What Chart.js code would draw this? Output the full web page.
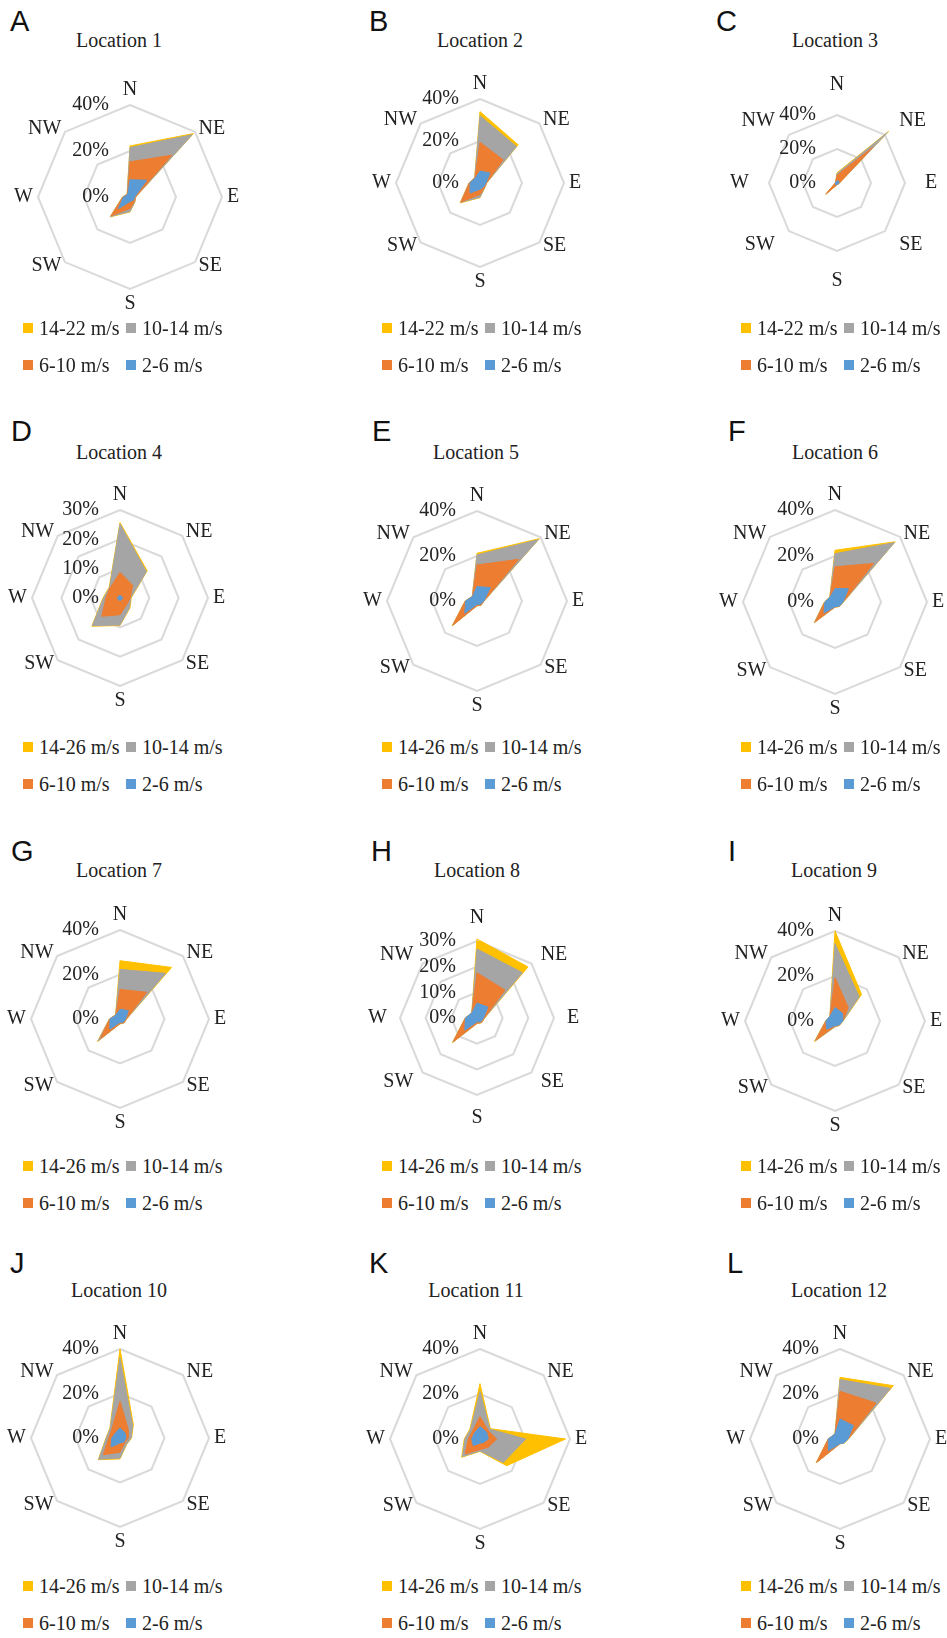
<!DOCTYPE html>
<html>
<head>
<meta charset="utf-8">
<script src="https://cdn.jsdelivr.net/npm/chart.js@4.4.1/dist/chart.umd.min.js"></script>
<style>
  html, body { margin: 0; padding: 0; background: #fff; }
  body { width: 947px; height: 1638px; position: relative; overflow: hidden;
         font-family: 'Liberation Serif', 'Times New Roman', serif; color: #222; }
  .letter { position: absolute; font-family: 'Liberation Sans', Arial, sans-serif;
            font-size: 29px; line-height: 29px; color: #111; }
  .title { position: absolute; font-size: 20px; line-height: 20px; white-space: nowrap;
           transform: translateX(-50%); }
  canvas { position: absolute; }
  .legend { position: absolute; display: grid; grid-template-columns: 103px auto;
            row-gap: 17px; font-size: 20px; line-height: 20px; }
  .item { display: flex; align-items: center; white-space: nowrap; }
  .sw { width: 10px; height: 10px; margin-right: 6px; }
</style>
</head>
<body>
<script>
const directions = ['N', 'NE', 'E', 'SE', 'S', 'SW', 'W', 'NW'];
const speedBins22 = ['14-22 m/s', '10-14 m/s', '6-10 m/s', '2-6 m/s'];
const speedBins26 = ['14-26 m/s', '10-14 m/s', '6-10 m/s', '2-6 m/s'];
const binColors = ['#FFC000', '#A5A5A5', '#ED7D31', '#5B9BD5'];
const panelLetters = ['A', 'B', 'C', 'D', 'E', 'F', 'G', 'H', 'I', 'J', 'K', 'L'];
const locationNames = ['Location 1', 'Location 2', 'Location 3', 'Location 4', 'Location 5', 'Location 6',
                       'Location 7', 'Location 8', 'Location 9', 'Location 10', 'Location 11', 'Location 12'];
const axisMax = [40, 40, 40, 30, 40, 40, 40, 30, 40, 40, 40, 40];
const axisStep = [20, 20, 20, 10, 20, 20, 20, 10, 20, 20, 20, 20];

// frequency (%) by direction N..NW; rows = top bin, 10-14, 6-10, 2-6 m/s
const location1 = [
    [22.2, 39.0, 2.5, 3.0, 6.5, 12.3, 3.3, 1.8],
    [21.5, 38.3, 2.4, 2.9, 6.3, 12.0, 3.2, 1.7],
    [15.3, 25.7, 2.3, 2.7, 5.0, 11.5, 3.0, 1.5],
    [7.5, 10.3, 2.0, 2.0, 2.0, 7.2, 2.8, 1.4]
];
const location2 = [
    [34.0, 25.7, 3.2, 3.2, 7.0, 13.4, 5.3, 3.6],
    [32.0, 24.5, 3.1, 3.1, 6.8, 13.0, 5.2, 3.5],
    [19.4, 15.6, 3.0, 3.0, 5.5, 12.7, 5.0, 3.4],
    [5.7, 6.7, 2.8, 2.5, 3.0, 6.7, 4.7, 3.2]
];
const location3 = [
    [6.0, 43.0, 1.5, 1.0, 1.0, 9.5, 1.0, 1.0],
    [5.5, 42.0, 1.4, 1.0, 1.0, 9.3, 1.0, 1.0],
    [4.5, 30.0, 1.3, 1.0, 1.0, 9.0, 1.0, 1.0],
    [1.2, 1.5, 1.0, 0.8, 0.8, 1.2, 0.8, 0.8]
];
const location4 = [
    [25.7, 13.1, 3.8, 4.8, 9.4, 13.6, 5.8, 5.2],
    [25.2, 12.7, 3.6, 4.6, 9.2, 13.3, 5.6, 5.0],
    [8.7, 6.1, 3.5, 3.2, 5.7, 8.8, 4.8, 4.8],
    [0.8, 0.8, 0.8, 0.8, 0.8, 0.8, 0.8, 0.8]
];
const location5 = [
    [21.2, 39.2, 3.2, 2.7, 2.2, 15.7, 5.3, 3.0],
    [20.5, 38.5, 3.1, 2.6, 2.1, 15.3, 5.2, 2.9],
    [16.0, 26.2, 3.0, 2.5, 2.0, 15.0, 5.1, 2.8],
    [6.4, 8.4, 3.0, 2.0, 1.5, 7.7, 5.0, 2.8]
];
const location6 = [
    [22.5, 37.0, 3.7, 2.8, 2.3, 12.8, 4.6, 3.2],
    [21.0, 36.5, 3.6, 2.7, 2.2, 12.5, 4.5, 3.1],
    [15.3, 23.7, 3.5, 2.6, 2.1, 12.0, 4.4, 3.0],
    [5.8, 8.2, 3.5, 2.5, 2.0, 6.8, 4.4, 3.0]
];
const location7 = [
    [26.2, 32.8, 3.0, 2.6, 2.2, 14.4, 4.8, 2.8],
    [22.3, 29.0, 2.9, 2.5, 2.1, 14.0, 4.7, 2.7],
    [13.3, 17.0, 2.8, 2.4, 2.0, 12.5, 4.6, 2.6],
    [4.4, 5.3, 2.5, 2.0, 1.5, 6.4, 4.5, 2.5]
];
const location8 = [
    [30.8, 28.1, 3.0, 2.6, 2.2, 13.6, 4.6, 2.9],
    [26.9, 25.0, 2.9, 2.5, 2.1, 13.3, 4.5, 2.8],
    [17.6, 15.4, 2.8, 2.4, 2.0, 13.0, 4.5, 2.8],
    [5.8, 6.0, 2.5, 2.0, 1.5, 6.7, 4.5, 2.8]
];
const location9 = [
    [40.0, 16.7, 3.6, 2.8, 2.6, 13.0, 4.2, 3.2],
    [34.4, 15.2, 3.5, 2.7, 2.5, 12.5, 4.1, 3.1],
    [19.3, 8.3, 3.5, 2.6, 2.2, 12.0, 4.0, 3.1],
    [6.0, 4.8, 3.5, 2.5, 2.0, 5.2, 4.0, 3.1]
];
const location10 = [
    [40.0, 8.5, 5.2, 4.2, 9.4, 13.8, 6.3, 6.4],
    [36.0, 8.0, 5.0, 4.0, 9.0, 13.5, 6.1, 6.2],
    [16.5, 5.3, 3.7, 3.0, 6.4, 10.6, 5.0, 5.3],
    [4.5, 3.2, 2.7, 2.5, 2.2, 5.7, 3.7, 3.0]
];
const location11 = [
    [24.6, 6.5, 38.0, 16.8, 5.5, 11.5, 7.0, 6.3],
    [21.2, 6.2, 20.3, 14.7, 5.3, 11.0, 6.7, 6.0],
    [10.0, 5.2, 7.4, 5.2, 4.7, 9.4, 5.2, 4.8],
    [5.6, 4.2, 3.7, 2.2, 1.8, 4.2, 3.7, 3.6]
];
const location12 = [
    [27.4, 33.5, 3.8, 2.6, 2.2, 15.1, 5.3, 3.2],
    [26.4, 31.8, 3.7, 2.5, 2.1, 14.8, 5.2, 3.1],
    [21.2, 22.6, 3.6, 2.5, 2.0, 14.5, 5.2, 3.1],
    [8.9, 8.4, 3.5, 2.5, 2.0, 7.3, 5.2, 3.1]
];
const locations = [location1, location2, location3, location4, location5, location6,
                   location7, location8, location9, location10, location11, location12];

// page layout: radar centre, radius, label gap
const radarBoxes = [
    { cx: 130, cy: 197, r: 92, pad: 5 },
    { cx: 480, cy: 183, r: 84, pad: 5 },
    { cx: 837, cy: 183, r: 68, pad: 20 },
    { cx: 120, cy: 598, r: 88, pad: 5 },
    { cx: 477, cy: 601, r: 90, pad: 5 },
    { cx: 835, cy: 602, r: 92, pad: 5 },
    { cx: 120, cy: 1019, r: 89, pad: 5 },
    { cx: 477, cy: 1018, r: 77, pad: 13 },
    { cx: 835, cy: 1021, r: 90, pad: 5 },
    { cx: 120, cy: 1438, r: 89, pad: 5 },
    { cx: 480, cy: 1439, r: 90, pad: 5 },
    { cx: 840, cy: 1439, r: 90, pad: 5 }
];
const titlePos = [[119, 40], [480, 40], [835, 40], [119, 452], [476, 452], [835, 452],
                  [119, 870], [477, 870], [834, 870], [119, 1290], [476, 1290], [839, 1290]];
const letterPos = [[10, 21], [369, 21], [716, 21], [11, 431], [372, 431], [728, 431],
                   [11, 851], [371, 851], [728, 851], [10, 1263], [369, 1263], [727, 1263]];
const legendRowY = [328, 747, 1166, 1586];
const legendColX = [23, 382, 741];

// draws compass names and % ticks the way Excel places them
const compassText = {
    id: 'compassText',
    afterDraw(chart, args, opts) {
        const s = chart.scales.r;
        const ctx = chart.ctx;
        ctx.save();
        ctx.fillStyle = '#222';
        ctx.font = '20px "Liberation Serif"';
        chart.data.labels.forEach((lab, i) => {
            const p = s.getPointPosition(i, s.drawingArea + opts.pad);
            const deg = i * 45;
            ctx.textAlign = (deg === 0 || deg === 180) ? 'center' : (deg < 180 ? 'left' : 'right');
            ctx.textBaseline = deg === 0 ? 'bottom' : (deg === 180 ? 'top' : 'middle');
            ctx.fillText(lab, p.x, p.y);
        });
        ctx.textAlign = 'right';
        ctx.textBaseline = 'middle';
        s.ticks.forEach(t => {
            const y = s.yCenter - s.getDistanceFromCenterForValue(t.value);
            ctx.fillText(t.value + '%', s.xCenter - 21, y);
        });
        ctx.restore();
    }
};

function addDiv(cls, text, left, top) {
    const d = document.createElement('div');
    d.className = cls;
    d.textContent = text;
    d.style.left = left + 'px';
    d.style.top = top + 'px';
    document.body.appendChild(d);
    return d;
}

locations.forEach((data, i) => {
    const bins = i < 3 ? speedBins22 : speedBins26;
    const box = radarBoxes[i];

    addDiv('letter', panelLetters[i], letterPos[i][0], letterPos[i][1] - 14.5);
    addDiv('title', locationNames[i], titlePos[i][0], titlePos[i][1] - 10);

    const canvas = document.createElement('canvas');
    canvas.width = 320;
    canvas.height = box.r * 2 + 90;
    canvas.style.left = (box.cx - 160) + 'px';
    canvas.style.top = (box.cy - box.r - 45) + 'px';
    document.body.appendChild(canvas);

    new Chart(canvas.getContext('2d'), {
        type: 'radar',
        data: {
            labels: directions,
            datasets: data.map((vals, k) => ({
                label: bins[k],
                data: vals,
                backgroundColor: binColors[k],
                borderColor: binColors[k],
                borderWidth: 1,
                pointRadius: 0,
                fill: true,
                order: 4 - k
            }))
        },
        options: {
            responsive: false,
            animation: false,
            devicePixelRatio: 1,
            layout: { padding: { top: 45, bottom: 45 } },
            elements: { line: { tension: 0 } },
            plugins: {
                legend: { display: false },
                tooltip: { enabled: false },
                compassText: { pad: box.pad }
            },
            scales: {
                r: {
                    min: 0,
                    max: axisMax[i],
                    ticks: { stepSize: axisStep[i], display: false },
                    grid: { color: '#D9D9D9', lineWidth: 2 },
                    angleLines: { display: false },
                    pointLabels: { display: false }
                }
            }
        },
        plugins: [compassText]
    });

    const lg = document.createElement('div');
    lg.className = 'legend';
    lg.style.left = legendColX[i % 3] + 'px';
    lg.style.top = (legendRowY[Math.floor(i / 3)] - 10) + 'px';
    bins.forEach((b, k) => {
        const it = document.createElement('div');
        it.className = 'item';
        const sw = document.createElement('span');
        sw.className = 'sw';
        sw.style.background = binColors[k];
        it.appendChild(sw);
        it.appendChild(document.createTextNode(b));
        lg.appendChild(it);
    });
    document.body.appendChild(lg);
});
</script>
</body>
</html>
